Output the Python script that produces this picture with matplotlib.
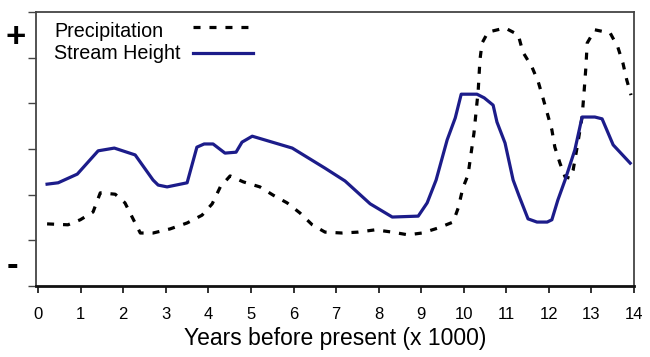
import matplotlib
matplotlib.use("Agg")
import matplotlib.pyplot as plt

plt.rcParams['font.family'] = ['Liberation Sans', 'DejaVu Sans']

# Precipitation (dashed black), years x 1000 vs relative level
precip_x = [0.21, 0.70, 0.99, 1.29, 1.46, 1.81, 2.04, 2.23, 2.40, 2.70, 3.10,
            3.50, 3.85, 4.09, 4.28, 4.51, 4.82, 5.21, 5.52, 5.85, 6.15, 6.44,
            6.74, 7.14, 7.52, 7.92, 8.32, 8.69, 9.02, 9.40, 9.75, 9.87, 9.98,
            10.10, 10.24, 10.34, 10.38, 10.43, 10.57, 10.97, 11.28, 11.39,
            11.60, 11.75, 11.86, 11.96, 12.07, 12.14, 12.26, 12.38, 12.50,
            12.57, 12.68, 12.78, 12.83, 12.87, 12.90, 13.08, 13.44, 13.62,
            13.74, 13.83, 13.93]
precip_y = [1.36, 1.34, 1.45, 1.62, 2.04, 2.01, 1.82, 1.47, 1.16, 1.16, 1.25,
            1.38, 1.55, 1.80, 2.17, 2.41, 2.28, 2.17, 1.99, 1.82, 1.60, 1.34,
            1.18, 1.16, 1.18, 1.23, 1.18, 1.12, 1.16, 1.27, 1.40, 1.71, 2.15,
            2.43, 3.35, 4.29, 4.95, 5.32, 5.56, 5.65, 5.50, 5.12,
            4.80, 4.47, 4.12, 3.79, 3.42, 3.04, 2.69, 2.39, 2.36,
            2.54, 3.13, 3.70, 4.29, 4.80, 5.32, 5.61, 5.54, 5.23,
            4.88, 4.51, 4.18]

# Stream height (solid navy)
stream_x = [0.21, 0.47, 0.92, 1.41, 1.79, 2.28, 2.70, 2.82, 3.03, 3.50, 3.73,
            3.90, 4.11, 4.39, 4.65, 4.79, 5.03, 5.97, 6.74, 7.21, 7.80, 8.32,
            8.93, 9.14, 9.35, 9.61, 9.80, 9.94, 10.31, 10.48, 10.69, 10.78,
            10.97, 11.16, 11.30, 11.51, 11.72, 11.96, 12.07, 12.21, 12.38,
            12.61, 12.78, 13.08, 13.25, 13.51, 13.91]
stream_y = [2.23, 2.26, 2.45, 2.96, 3.02, 2.87, 2.32, 2.21, 2.17, 2.26, 3.04,
            3.11, 3.11, 2.91, 2.93, 3.15, 3.28, 3.02, 2.58, 2.30, 1.80, 1.51,
            1.53, 1.82, 2.32, 3.20, 3.68, 4.20, 4.20, 4.12, 3.96, 3.59,
            3.13, 2.32, 1.97, 1.47, 1.40, 1.40, 1.45, 1.88, 2.32,
            2.98, 3.70, 3.70, 3.66, 3.09, 2.69]

x_ticks = list(range(0, 15))
y_ticks = list(range(0, 7))

NAVY = '#1c1c8a'
DASH = (2.2, 2.8)

fig = plt.figure(figsize=(6.5, 3.57), dpi=100)
ax = fig.add_axes([0.0554, 0.1989, 0.92, 0.7675])

ax.plot(precip_x, precip_y, color='black', lw=2.3, dashes=DASH)
ax.plot(stream_x, stream_y, color=NAVY, lw=2.3)

ax.set_xlim(-0.05, 14.0)
ax.set_ylim(0, 6)
ax.set_xticks(x_ticks)
ax.set_yticks(y_ticks)
ax.set_yticklabels([])
ax.tick_params(axis='x', direction='out', length=5, width=1.3, pad=10,
               labelsize=12, color='#222222')
ax.tick_params(axis='y', direction='out', length=6, width=1.0, color='#444444')

for side in ['top', 'right', 'left']:
    ax.spines[side].set_color('#444444')
    ax.spines[side].set_linewidth(1.3)
ax.spines['bottom'].set_linewidth(2.0)
ax.spines['bottom'].set_color('#111111')

ax.set_xlabel("Years before present (x 1000)", fontsize=16.5, labelpad=4)

# + / - markers on the y axis
fig.text(16 / 650, 1 - 37 / 357, "+", fontsize=25, fontweight='bold',
         ha='center', va='center')
fig.text(12 / 650, 1 - 265 / 357, "-", fontsize=25, fontweight='bold',
         ha='center', va='center')

# legend drawn by hand so labels stay left aligned
ax.text(0.030, 0.909, "Precipitation", transform=ax.transAxes, fontsize=14.2,
        va='baseline')
ax.text(0.030, 0.828, "Stream Height", transform=ax.transAxes, fontsize=14.2,
        va='baseline')
ax.plot([0.2625, 0.355], [0.945, 0.945], transform=ax.transAxes,
        color='black', lw=2.3, dashes=DASH)
ax.plot([0.2625, 0.363], [0.850, 0.850], transform=ax.transAxes,
        color=NAVY, lw=2.3)

fig.savefig("out.png", dpi=100)
